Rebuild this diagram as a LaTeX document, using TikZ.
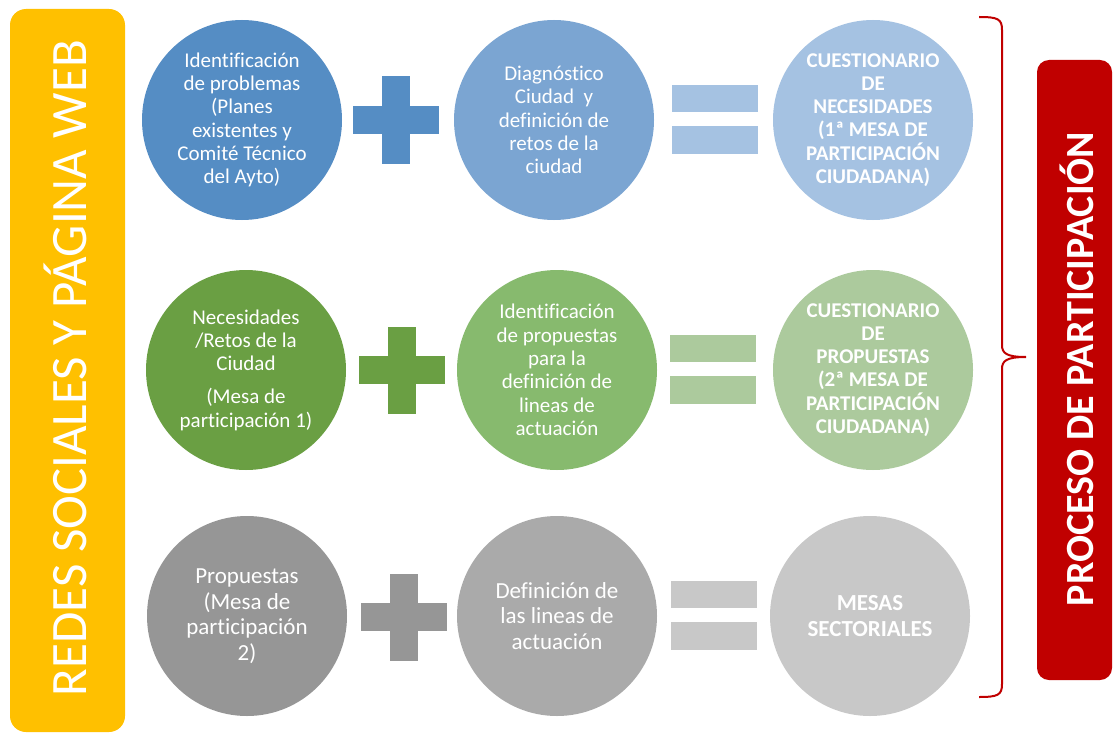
\documentclass[tikz,border=0pt]{standalone}
\usepackage{fontspec}
\setmainfont{Carlito}[Ligatures=NoCommon]
\definecolor{ybar}{HTML}{FFC000}
\definecolor{rbar}{HTML}{C00000}
\definecolor{bA}{HTML}{558DC4}
\definecolor{bB}{HTML}{7BA5D2}
\definecolor{bC}{HTML}{A5C2E2}
\definecolor{gA}{HTML}{6A9F43}
\definecolor{gB}{HTML}{87BA6E}
\definecolor{gC}{HTML}{ACCA9D}
\definecolor{kA}{HTML}{969696}
\definecolor{kB}{HTML}{AAAAAA}
\definecolor{kC}{HTML}{C8C8C8}
\newcommand\myplus[3]{\begin{scope}[shift={(#1,#2)}]\fill[#3] (-43,-14) rectangle (43,14); \fill[#3] (-14,-43.5) rectangle (14,43.5);\end{scope}}
\newcommand\myeq[3]{\begin{scope}[shift={(#1,#2)}]\fill[#3] (-43,-35) rectangle (43,-8); \fill[#3] (-43,6) rectangle (43,34);\end{scope}}
\begin{document}
\begin{tikzpicture}[x=1pt,y=-1pt]
\useasboundingbox[fill=white] (0,0) rectangle (1113,733);
\tikzset{
 circ/.style={circle, minimum size=200pt, inner sep=0pt, text=white, align=center},
 fA/.style={font=\fontsize{21}{23.3}\selectfont},
 fB/.style={font=\fontsize{21}{23.3}\selectfont\bfseries},
 fC/.style={font=\fontsize{23}{25.5}\selectfont},
 fD/.style={font=\fontsize{23}{25.5}\selectfont\bfseries},
}
% side bars
\node[fill=ybar, rounded corners=16pt, minimum width=115pt, minimum height=723pt, inner sep=0pt] (ybox) at (67.5,370.5) {};
\node[rotate=90, anchor=base, text=white, inner sep=0pt, font=\fontsize{51}{51}\selectfont] (ytext) at (86,368) {REDES SOCIALES Y PÁGINA WEB};
\node[fill=rbar, rounded corners=12pt, minimum width=75pt, minimum height=620pt, inner sep=0pt] (rbox) at (1074.5,370) {};
\node[rotate=90, anchor=base, text=white, inner sep=0pt, font=\fontsize{40}{40}\selectfont\bfseries] (rtext) at (1093,369) {PROCESO DE PARTICIPACIÓN};
% brace
\draw[rbar, line width=2pt] (979,17) .. controls (998,17) and (1002,19) .. (1002,30) -- (1002,345) .. controls (1002,353) and (1006,357) .. (1026,357) .. controls (1006,357) and (1002,361) .. (1002,369) -- (1002,684) .. controls (1002,695) and (998,697) .. (979,697);
% row 1
\node[circ, fill=bA, fA] (r1c1) at (242,120) {Identificación\\de problemas\\(Planes\\existentes y\\Comité Técnico\\del Ayto)};
\myplus{396}{120}{bA}
\node[circ, fill=bB, fA] (r1c2) at (554,120) {Diagnóstico\\Ciudad~ y\\definición de\\retos de la\\ciudad};
\myeq{715}{120}{bC}
\node[circ, fill=bC, fB] (r1c3) at (873,120) {CUESTIONARIO\\DE\\NECESIDADES\\(1ª MESA DE\\PARTICIPACIÓN\\CIUDADANA)};
% row 2
\node[circ, fill=gA, fA] (r2c1) at (246,370) {Necesidades\\/Retos de la\\Ciudad\\[10pt](Mesa de\\participación 1)};
\myplus{402}{370}{gA}
\node[circ, fill=gB, fA] (r2c2) at (557,370) {Identificación\\de propuestas\\para la\\definición de\\lineas de\\actuación};
\myeq{713}{370}{gC}
\node[circ, fill=gC, fB] (r2c3) at (873,370) {CUESTIONARIO\\DE\\PROPUESTAS\\(2ª MESA DE\\PARTICIPACIÓN\\CIUDADANA)};
% row 3
\node[circ, fill=kA, fC] (r3c1) at (247,616) {Propuestas\\(Mesa de\\participación\\2)};
\myplus{404}{617}{kA}
\node[circ, fill=kB, fC] (r3c2) at (557,616) {Definición de\\las lineas de\\actuación};
\myeq{714}{616}{kC}
\node[circ, fill=kC, fD] (r3c3) at (870,616) {MESAS\\SECTORIALES};
\end{tikzpicture}
\end{document}
